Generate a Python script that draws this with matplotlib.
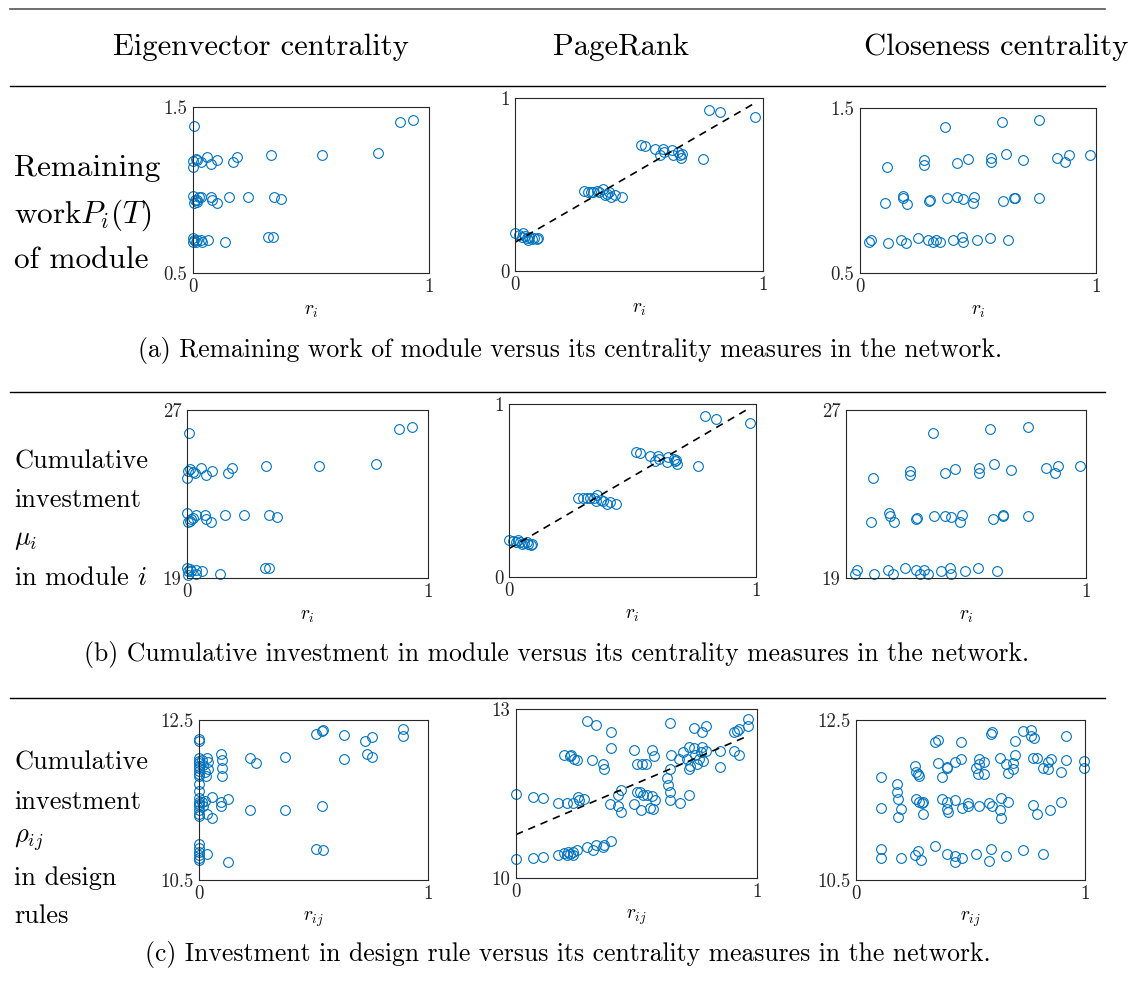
import matplotlib
matplotlib.use('Agg')
import matplotlib.pyplot as plt

plt.rcParams['font.family'] = ['cmr10', 'DejaVu Serif']
plt.rcParams['mathtext.fontset'] = 'cm'
plt.rcParams['axes.formatter.use_mathtext'] = True

W, H = 1139, 994
BLUE = '#0072BD'

headers = ['Eigenvector centrality', 'PageRank', 'Closeness centrality']
captions = [
    '(a) Remaining work of module versus its centrality measures in the network.',
    '(b) Cumulative investment in module versus its centrality measures in the network.',
    '(c) Investment in design rule versus its centrality measures in the network.',
]
row_labels = [
    ['Remaining', r'work$P_i(T)$', 'of module'],
    ['Cumulative', 'investment', r'$\mu_i$', r'in module $i$'],
    ['Cumulative', 'investment', r'$\rho_{ij}$', 'in design', 'rules'],
]
row_ylims = [(0.5, 1.5), (19, 27), (10.5, 12.5)]
pagerank_ylims = [(0, 1), (0, 1), (10, 13)]
xlabels = [r'$r_i$', r'$r_i$', r'$r_{ij}$']

# (a) remaining work
a1_x = [0.004, 0.877, 0.932,
        0.011, 0, 0.018, 0.032, 0, 0.058, 0.078, 0.103, 0.169, 0.188, 0.329, 0.545, 0.784,
        0, 0.018, 0.004, 0.032, 0.016, 0.075, 0.082, 0.103, 0.153, 0.234, 0.343, 0.371, 0.025, 0.008,
        0, 0.004, 0, 0.018, 0.032, 0.037, 0.065, 0.136, 0.319, 0.340, 0.011]
a1_y = [1.383, 1.410, 1.424,
        1.189, 1.177, 1.179, 1.167, 1.137, 1.197, 1.157, 1.183, 1.169, 1.199, 1.213, 1.213, 1.223,
        0.966, 0.942, 0.922, 0.958, 0.930, 0.958, 0.938, 0.922, 0.956, 0.956, 0.958, 0.946, 0.956, 0.938,
        0.711, 0.697, 0.685, 0.701, 0.697, 0.685, 0.701, 0.687, 0.715, 0.715, 0.689]

a2_x = [0, 0.017, 0.027, 0.034, 0.040, 0.047, 0.058, 0.067, 0.077, 0.087, 0.094, 0.054,
        0.278, 0.295, 0.305, 0.315, 0.329, 0.340, 0.356, 0.362, 0.372, 0.380, 0.389, 0.403, 0.430,
        0.510, 0.523, 0.564, 0.584, 0.597, 0.600, 0.635, 0.638, 0.658, 0.667, 0.671, 0.675, 0.758,
        0.783, 0.828, 0.966]
a2_y = [0.222, 0.208, 0.199, 0.218, 0.205, 0.189, 0.199, 0.185, 0.193, 0.185, 0.189, 0.180,
        0.463, 0.456, 0.459, 0.459, 0.463, 0.456, 0.475, 0.440, 0.444, 0.456, 0.425, 0.440, 0.425,
        0.730, 0.720, 0.707, 0.672, 0.707, 0.687, 0.701, 0.672, 0.687, 0.672, 0.656, 0.676, 0.649,
        0.932, 0.919, 0.890]

a3_x = [0.361, 0.601, 0.758,
        0.113, 0.272, 0.272, 0.413, 0.457, 0.554, 0.554, 0.619, 0.689, 0.834, 0.870, 0.884, 0.973,
        0.106, 0.184, 0.181, 0.201, 0.293, 0.297, 0.368, 0.410, 0.438, 0.477, 0.484, 0.608, 0.651, 0.655, 0.758,
        0.040, 0.045, 0.119, 0.173, 0.195, 0.245, 0.287, 0.308, 0.322, 0.337, 0.396, 0.434, 0.438, 0.495, 0.549, 0.629]
a3_y = [1.386, 1.415, 1.429,
        1.141, 1.182, 1.155, 1.169, 1.192, 1.200, 1.171, 1.222, 1.186, 1.200, 1.175, 1.216, 1.216,
        0.922, 0.969, 0.952, 0.920, 0.936, 0.940, 0.956, 0.958, 0.948, 0.922, 0.958, 0.936, 0.956, 0.954, 0.956,
        0.685, 0.701, 0.683, 0.701, 0.683, 0.711, 0.701, 0.687, 0.701, 0.685, 0.699, 0.717, 0.685, 0.701, 0.713, 0.701]

# (b) cumulative investment in module
b1_x = [0.008, 0.878, 0.932,
        0, 0.003, 0.011, 0.025, 0.032, 0.057, 0.080, 0.103, 0.169, 0.187, 0.327, 0.546, 0.786,
        0, 0.004, 0.014, 0.025, 0.036, 0.076, 0.080, 0.101, 0.157, 0.236, 0.341, 0.372, 0.018,
        0, 0.003, 0.006, 0.018, 0.036, 0.039, 0.064, 0.136, 0.323, 0.340, 0.011]
b1_y = [25.92, 26.10, 26.19,
        23.78, 24.10, 24.20, 24.04, 23.99, 24.26, 23.89, 24.10, 24.00, 24.26, 24.35, 24.35, 24.42,
        22.09, 21.69, 21.72, 21.88, 21.98, 22.01, 21.80, 21.68, 21.98, 21.98, 21.99, 21.91, 21.82,
        19.50, 19.31, 19.16, 19.31, 19.36, 19.19, 19.34, 19.20, 19.49, 19.50, 19.44]

b2_x = [0.001, 0.018, 0.038, 0.045, 0.051, 0.061, 0.072, 0.078, 0.088, 0.095, 0.028,
        0.281, 0.301, 0.315, 0.328, 0.345, 0.358, 0.353, 0.372, 0.382, 0.396, 0.407, 0.434,
        0.515, 0.531, 0.572, 0.592, 0.603, 0.608, 0.643, 0.639, 0.666, 0.673, 0.680, 0.677, 0.765,
        0.792, 0.838, 0.974]
b2_y = [0.216, 0.208, 0.216, 0.203, 0.189, 0.197, 0.203, 0.189, 0.183, 0.189, 0.203,
        0.459, 0.457, 0.457, 0.459, 0.459, 0.473, 0.440, 0.444, 0.440, 0.421, 0.432, 0.421,
        0.724, 0.714, 0.701, 0.668, 0.701, 0.680, 0.695, 0.666, 0.680, 0.668, 0.656, 0.676, 0.639,
        0.931, 0.915, 0.888]

b3_x = [0.364, 0.601, 0.758,
        0.111, 0.268, 0.268, 0.414, 0.456, 0.556, 0.556, 0.618, 0.689, 0.835, 0.872, 0.883, 0.974,
        0.104, 0.181, 0.185, 0.201, 0.293, 0.296, 0.368, 0.411, 0.439, 0.476, 0.483, 0.611, 0.653, 0.656, 0.758,
        0.036, 0.046, 0.118, 0.174, 0.194, 0.247, 0.290, 0.307, 0.324, 0.340, 0.396, 0.435, 0.439, 0.497, 0.549, 0.629]
b3_y = [25.89, 26.10, 26.18,
        23.78, 24.10, 23.91, 23.99, 24.18, 24.23, 24.02, 24.42, 24.12, 24.23, 24.02, 24.35, 24.35,
        21.69, 22.09, 21.96, 21.68, 21.82, 21.85, 21.96, 21.96, 21.90, 21.68, 21.99, 21.82, 21.96, 21.98, 21.96,
        19.20, 19.36, 19.20, 19.36, 19.20, 19.50, 19.36, 19.20, 19.36, 19.20, 19.35, 19.50, 19.20, 19.35, 19.50, 19.35]

# (c) investment in design rules
c1_x = [0, 0, 0, 0, 0, 0, 0, 0, 0, 0, 0, 0, 0, 0, 0, 0, 0, 0, 0, 0, 0, 0, 0, 0, 0,
        0.012, 0.019, 0.026, 0.033, 0.041, 0.041, 0.031, 0.012, 0.019, 0.033, 0.026,
        0.055, 0.055, 0.033,
        0.096, 0.099, 0.099, 0.099, 0.094, 0.094, 0.128, 0.128,
        0.222, 0.251, 0.222, 0.376, 0.376,
        0.513, 0.538, 0.542, 0.538, 0.513, 0.542,
        0.634, 0.634, 0.724, 0.757, 0.734, 0.757, 0.891, 0.891]
c1_y = [12.258, 12.238, 12.02, 11.99, 11.96, 11.93, 11.90, 11.86, 11.83, 11.80, 11.70, 11.61,
        11.52, 11.48, 11.45, 11.42, 11.38, 11.33, 11.30, 10.95, 10.90, 10.85, 10.81, 10.78, 10.75,
        12.00, 11.94, 11.85, 12.03, 11.98, 11.89, 11.80, 11.47, 11.43, 11.33, 11.49,
        11.54, 11.28, 10.83,
        12.07, 12.00, 11.90, 11.80, 11.47, 11.43, 11.51, 10.72,
        12.02, 11.96, 11.38, 12.04, 11.38,
        12.33, 12.36, 12.38, 11.43, 10.89, 10.87,
        12.31, 12.01, 12.24, 12.29, 12.07, 12.04, 12.39, 12.30]

c2_x = [0, 0.072, 0.114, 0.176, 0.199, 0.211, 0.217, 0.224, 0.235, 0.238, 0.255, 0.294, 0.321,
        0.330, 0.363, 0.366, 0.395,
        0, 0.072, 0.114, 0.176, 0.213, 0.235, 0.259, 0.263, 0.281, 0.391, 0.425, 0.425, 0.436,
        0.436, 0.490, 0.501, 0.519, 0.515, 0.529, 0.543, 0.557, 0.564, 0.568, 0.577, 0.626,
        0.629, 0.640, 0.640, 0.679, 0.716, 0.640,
        0.199, 0.222, 0.227, 0.241, 0.255, 0.314, 0.360, 0.366, 0.393, 0.490, 0.504, 0.522,
        0.540, 0.564, 0.573, 0.644, 0.677, 0.695, 0.709, 0.716, 0.716, 0.720, 0.739, 0.744,
        0.751, 0.758, 0.767, 0.771, 0.775, 0.787, 0.845, 0.845, 0.906, 0.924,
        0.294, 0.330, 0.393, 0.640, 0.740, 0.771, 0.787, 0.903, 0.917, 0.924, 0.961, 0.961]
c2_y = [10.33, 10.36, 10.37, 10.40, 10.45, 10.40, 10.46, 10.42, 10.40, 10.47, 10.50, 10.55, 10.49,
        10.59, 10.55, 10.59, 10.65,
        11.50, 11.44, 11.42, 11.34, 11.34, 11.34, 11.44, 11.38, 11.40, 11.32, 11.47, 11.28, 11.17,
        11.56, 11.32, 11.52, 11.20, 11.52, 11.48, 11.47, 11.25, 11.45, 11.22, 11.38, 11.78,
        11.65, 11.52, 11.38, 11.34, 11.48, 11.94,
        12.19, 12.16, 12.18, 12.12, 12.10, 12.09, 12.03, 11.94, 12.30, 12.27, 12.02, 12.02,
        12.02, 12.28, 12.17, 12.18, 12.11, 12.23, 12.12, 12.33, 11.94, 11.99, 12.30, 12.19,
        12.03, 12.12, 12.24, 12.33, 12.08, 12.25, 12.26, 11.97, 12.26, 12.19,
        12.79, 12.72, 12.60, 12.76, 12.67, 12.60, 12.70, 12.59, 12.61, 12.64, 12.82, 12.70]

c3_x = [0.346, 0.359, 0.458, 0.590, 0.592, 0.694, 0.731, 0.764, 0.764, 0.779, 0.917,
        0.108, 0.258, 0.262, 0.272, 0.276, 0.357, 0.377, 0.396, 0.399, 0.432, 0.458, 0.522,
        0.537, 0.539, 0.534, 0.559, 0.559, 0.629, 0.655, 0.665, 0.687, 0.694, 0.687, 0.774,
        0.792, 0.815, 0.840, 0.840, 0.850, 0.894, 0.917, 0.996, 0.996,
        0.180, 0.180, 0.185, 0.185, 0.195, 0.109, 0.262, 0.276, 0.287, 0.294, 0.291, 0.374,
        0.399, 0.399, 0.403, 0.432, 0.464, 0.490, 0.490, 0.539, 0.582, 0.592, 0.629, 0.632,
        0.632, 0.665, 0.774, 0.792, 0.847, 0.894,
        0.108, 0.109, 0.195, 0.258, 0.272, 0.282, 0.346, 0.396, 0.432, 0.432, 0.464, 0.524,
        0.582, 0.590, 0.654, 0.731, 0.815]
c3_y = [12.23, 12.25, 12.22, 12.32, 12.35, 12.24, 12.36, 12.38, 12.30, 12.28, 12.30,
        11.79, 11.93, 11.85, 11.83, 11.80, 11.96, 11.79, 11.90, 11.91, 11.97, 12.01, 11.90,
        12.01, 11.95, 11.82, 11.97, 11.83, 12.03, 11.95, 11.84, 11.96, 12.06, 11.89, 12.03,
        12.02, 11.90, 11.89, 11.97, 12.01, 11.85, 12.00, 11.99, 11.90,
        11.70, 11.60, 11.51, 11.29, 11.39, 11.40, 11.51, 11.48, 11.46, 11.47, 11.32, 11.51,
        11.47, 11.39, 11.35, 11.50, 11.40, 11.46, 11.42, 11.43, 11.46, 11.43, 11.38, 11.53,
        11.28, 11.48, 11.44, 11.33, 11.38, 11.47,
        10.89, 10.77, 10.77, 10.81, 10.86, 10.75, 10.93, 10.83, 10.80, 10.72, 10.77, 10.83,
        10.74, 10.89, 10.80, 10.87, 10.83]

# dashed fit lines in the PageRank column: (intercept, slope, x end)
fits = [(0.166, 0.832, 0.96), (0.164, 0.834, 0.966), (10.771, 1.819, 0.965)]

panel_data = [
    [(a1_x, a1_y), (a2_x, a2_y), (a3_x, a3_y)],
    [(b1_x, b1_y), (b2_x, b2_y), (b3_x, b3_y)],
    [(c1_x, c1_y), (c2_x, c2_y), (c3_x, c3_y)],
]

# axes boxes in pixels: left, top, right, bottom
boxes = [
    [(193, 107, 429, 273), (515, 98, 763, 271), (860, 108, 1096, 273)],
    [(187, 410, 428, 578), (509, 404, 756, 577), (846, 410, 1086, 578)],
    [(199, 720, 428, 880), (516, 709, 757, 878), (856, 720, 1085, 880)],
]

fig = plt.figure(figsize=(W / 100, H / 100), dpi=100)


def fx(x):
    return x / W


def fy(y):
    return 1 - y / H


def hline(y, lw=1.0, color='black'):
    fig.add_artist(plt.Line2D([fx(10), fx(1105)], [fy(y), fy(y)], color=color, lw=lw))


hline(9, lw=1.2, color='#555555')
hline(86)
hline(392)
hline(698)

for name, xc in zip(headers, [261, 621, 996]):
    fig.text(fx(xc), fy(47), name, ha='center', va='center', fontsize=22)

label_rows_y = [[168, 215, 260], [462, 500, 540, 578], [763, 802, 840, 878, 916]]
label_sizes = [22.5, 19, 19]
for r in range(3):
    for txt, yy in zip(row_labels[r], label_rows_y[r]):
        fig.text(fx(14), fy(yy), txt, ha='left', va='center', fontsize=label_sizes[r])

for txt, (xc, yc) in zip(captions, [(570, 350), (557, 655), (568, 955)]):
    fig.text(fx(xc), fy(yc), txt, ha='center', va='center', fontsize=18.5)

for r in range(3):
    for c in range(3):
        l, t, rr, b = boxes[r][c]
        ax = fig.add_axes([fx(l), fy(b), (rr - l) / W, (b - t) / H])
        xs, ys = panel_data[r][c]
        ax.plot(xs, ys, 'o', mfc='none', mec=BLUE, ms=7, mew=0.8, clip_on=False)
        ylo, yhi = pagerank_ylims[r] if c == 1 else row_ylims[r]
        if c == 1:
            b0, b1, xe = fits[r]
            ax.plot([0, xe], [b0, b0 + b1 * xe], '--', color='black', lw=1.2, dashes=(4.5, 3.5))
        ax.set_xlim(0, 1)
        ax.set_ylim(ylo, yhi)
        if r == 1 and c == 2:
            ax.set_xticks([1])
            ax.set_xticklabels(['1'])
        else:
            ax.set_xticks([0, 1])
            ax.set_xticklabels(['0', '1'])
        ax.set_yticks([ylo, yhi])
        ax.set_yticklabels([f'{v:g}' for v in (ylo, yhi)])
        ax.tick_params(length=0, labelsize=13.5, pad=4, colors='#262626')
        ax.set_xlabel(xlabels[r], fontsize=14, labelpad=4)
        for s in ax.spines.values():
            s.set_linewidth(0.8)
            s.set_color('#262626')

fig.savefig('out.png', dpi=100)
